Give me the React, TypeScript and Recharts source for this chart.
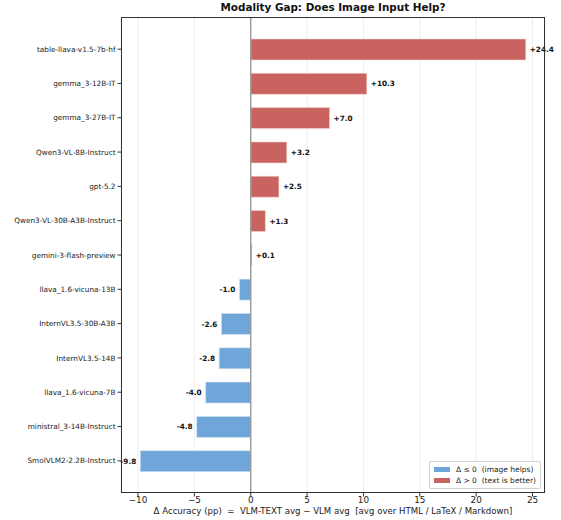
import { Bar, BarChart, CartesianGrid, Cell, LabelList, ReferenceLine, XAxis, YAxis } from 'recharts'

const models = [
  'table-llava-v1.5-7b-hf',
  'gemma_3-12B-IT',
  'gemma_3-27B-IT',
  'Qwen3-VL-8B-Instruct',
  'gpt-5.2',
  'Qwen3-VL-30B-A3B-Instruct',
  'gemini-3-flash-preview',
  'llava_1.6-vicuna-13B',
  'InternVL3.5-30B-A3B',
  'InternVL3.5-14B',
  'llava_1.6-vicuna-7B',
  'ministral_3-14B-Instruct',
  'SmolVLM2-2.2B-Instruct',
]
const deltas = [24.4, 10.3, 7.0, 3.2, 2.5, 1.3, 0.1, -1.0, -2.6, -2.8, -4.0, -4.8, -9.8]
const xTicks = [-10, -5, 0, 5, 10, 15, 20, 25]

const RED = '#c8635f'
const BLUE = '#6fa6da'
const FONT = '"DejaVu Sans", sans-serif'

const data = models.map((m, i) => ({ model: m, delta: deltas[i] }))

// plot frame (matches chart margins below)
const PLOT = { left: 121, top: 17, right: 545, bottom: 493 }

function ValueLabel(props: any) {
  const { x, y, width, height, value } = props
  const v = Number(value)
  const l = Math.min(x, x + width)
  const r = Math.max(x, x + width)
  const pos = v > 0
  return (
    <text
      x={pos ? r + 4 : l - 4}
      y={y + height / 2}
      dy="0.35em"
      textAnchor={pos ? 'start' : 'end'}
      fontFamily={FONT}
      fontSize={7.3}
      fontWeight="bold"
      fill="#111"
    >
      {pos ? `+${v.toFixed(1)}` : v.toFixed(1)}
    </text>
  )
}

export default function App() {
  return (
    <div style={{ position: 'absolute', left: 0, top: 0, width: 561, height: 520, background: '#fff', fontFamily: FONT }}>
      <div
        style={{
          position: 'absolute',
          left: PLOT.left,
          width: PLOT.right - PLOT.left,
          top: 1,
          textAlign: 'center',
          fontSize: 10.4,
          fontWeight: 'bold',
          color: '#111',
        }}
      >
        Modality Gap: Does Image Input Help?
      </div>
      <BarChart
        width={561}
        height={520}
        data={data}
        layout="vertical"
        margin={{ top: PLOT.top, right: 561 - PLOT.right, bottom: 0, left: 0 }}
        barCategoryGap={0}
      >
        <CartesianGrid horizontal={false} stroke="#e8e8e8" strokeWidth={0.8} />
        <XAxis
          type="number"
          domain={[-11.51, 26.11]}
          ticks={xTicks}
          allowDataOverflow
          height={27}
          tickSize={3.5}
          tickMargin={0}
          tickLine={{ stroke: '#333' }}
          axisLine={false}
          tick={{ fill: '#222', fontSize: 8.8, fontFamily: FONT }}
          tickFormatter={(v: number) => (v < 0 ? `\u2212${Math.abs(v)}` : String(v))}
        />
        <YAxis
          type="category"
          dataKey="model"
          width={PLOT.left}
          padding={{ top: 15, bottom: 15 }}
          tickSize={3.5}
          tickLine={{ stroke: '#333' }}
          axisLine={false}
          interval={0}
          tick={{ fill: '#222', fontSize: 7.3, fontFamily: FONT }}
        />
        <ReferenceLine x={0} stroke="#9a9a9a" strokeWidth={1.4} />
        <Bar dataKey="delta" barSize={21} isAnimationActive={false} strokeWidth={0.6}>
          {data.map((d) => (
            <Cell key={d.model} fill={d.delta > 0 ? RED : BLUE} stroke={d.delta > 0 ? '#f3d6d5' : '#d7e7f6'} />
          ))}
          <LabelList dataKey="delta" content={ValueLabel} />
        </Bar>
      </BarChart>
      <div
        style={{
          position: 'absolute',
          left: PLOT.left,
          top: PLOT.top,
          width: PLOT.right - PLOT.left,
          height: PLOT.bottom - PLOT.top,
          border: '1px solid #333',
          boxSizing: 'border-box',
          pointerEvents: 'none',
        }}
      />
      <div
        style={{
          position: 'absolute',
          right: 561 - PLOT.right + 4,
          top: 461,
          border: '1px solid #d0d0d0',
          borderRadius: 2,
          background: 'rgba(255,255,255,0.85)',
          padding: '2px 4px',
          fontSize: 7.5,
          color: '#222',
          lineHeight: '11px',
        }}
      >
        {[
          { c: BLUE, t: 'Δ ≤ 0  (image helps)' },
          { c: RED, t: 'Δ > 0  (text is better)' },
        ].map((it) => (
          <div key={it.t} style={{ display: 'flex', alignItems: 'center', whiteSpace: 'pre' }}>
            <span style={{ display: 'inline-block', width: 16, height: 5, background: it.c, marginRight: 6 }} />
            {it.t}
          </div>
        ))}
      </div>
      <div
        style={{
          position: 'absolute',
          left: PLOT.left,
          width: PLOT.right - PLOT.left,
          top: 506,
          textAlign: 'center',
          fontSize: 8.6,
          lineHeight: '11px',
          color: '#222',
          whiteSpace: 'pre',
        }}
      >
        {'Δ Accuracy (pp)  =  VLM-TEXT avg \u2212 VLM avg  [avg over HTML / LaTeX / Markdown]'}
      </div>
    </div>
  )
}
